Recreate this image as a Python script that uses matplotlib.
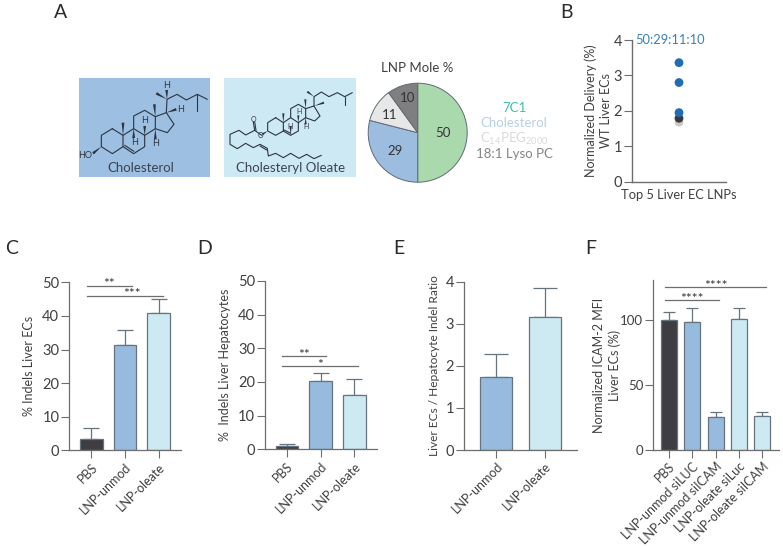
import matplotlib
matplotlib.use("Agg")
import matplotlib.pyplot as plt
from matplotlib.patches import Rectangle

plt.rcParams['font.family'] = ['Lato', 'DejaVu Sans']
plt.rcParams['mathtext.default'] = 'regular'
plt.rcParams['mathtext.fontset'] = 'custom'
plt.rcParams['mathtext.rm'] = 'Lato'

W, H = 783, 547
TXT = '#404040'
AX = '#6e6e6e'
DARK = '#3e3e42'
BLUE = '#97bbde'
LIGHT = '#cde9f2'
EDGE = '#66747f'

# ---- data ----
pie_values = [50, 29, 11, 10]
pie_colors = ['#aad9ae', '#9dbde0', '#e7e7e7', '#7f7f81']
pie_legend = ['7C1', 'Cholesterol', r'C$_{14}$PEG$_{2000}$', '18:1 Lyso PC']
pie_legend_colors = ['#3fc0aa', '#b7d0e9', '#dadada', '#858585']

b_values = [1.68, 1.79, 1.95, 2.80, 3.36]
b_colors = ['#c9c9c9', '#3a3a3c', '#1f6db5', '#1f6db5', '#1f6db5']

c_labels = ['PBS', 'LNP-unmod', 'LNP-oleate']
c_values = [3.3, 31.2, 41.0]
c_tops = [6.6, 35.7, 44.9]

d_labels = ['PBS', 'LNP-unmod', 'LNP-oleate']
d_values = [1.0, 20.3, 16.0]
d_tops = [1.6, 22.8, 21.0]

e_labels = ['LNP-unmod', 'LNP-oleate']
e_values = [1.73, 3.15]
e_tops = [2.28, 3.86]

f_labels = ['PBS', 'LNP-unmod siLUC', 'LNP-unmod siICAM', 'LNP-oleate siLuc', 'LNP-oleate siICAM']
f_values = [100.0, 98.5, 25.5, 100.5, 26.5]
f_tops = [106.0, 109.0, 29.5, 109.0, 29.5]

fig = plt.figure(figsize=(W / 100, H / 100), dpi=100)


def px_axes(x0, x1, ytop, ybot, **kw):
    return fig.add_axes([x0 / W, 1 - ybot / H, (x1 - x0) / W, (ybot - ytop) / H], **kw)


# pixel overlay for the schematic parts of panel A and the panel letters
bg = px_axes(0, W, 0, H)
bg.set_xlim(0, W)
bg.set_ylim(H, 0)
bg.axis('off')

bg.add_patch(Rectangle((79, 78), 131, 99, color='#9dbfe1', lw=0))
bg.add_patch(Rectangle((224, 78), 132, 99, color='#cdeaf4', lw=0))

MOL = '#2c3440'


def chain(pts, ox, oy, lw=0.8, color=MOL):
    xs = [ox + p[0] / 3 for p in pts]
    ys = [oy + p[1] / 3 for p in pts]
    bg.plot(xs, ys, color=color, lw=lw, solid_capstyle='round', solid_joinstyle='round')


def wedge(a, b, ox, oy, w=1.4):
    ax_, ay_ = ox + a[0] / 3, oy + a[1] / 3
    bx_, by_ = ox + b[0] / 3, oy + b[1] / 3
    dx, dy = bx_ - ax_, by_ - ay_
    n = (dx ** 2 + dy ** 2) ** 0.5
    nx, ny = -dy / n * w, dx / n * w
    bg.fill([ax_, bx_ + nx, bx_ - nx], [ay_, by_ + ny, by_ - ny], color=MOL, lw=0)


# Cholesterol skeleton (zoomed-crop coordinates)
ox, oy = 78, 76
chain([(103, 158), (135, 178), (135, 212), (103, 233), (70, 212), (70, 178), (103, 158)], ox, oy)
chain([(135, 178), (167, 158), (200, 178), (200, 212), (167, 233), (135, 212)], ox, oy)
chain([(140, 208), (168, 226)], ox, oy)
chain([(167, 158), (167, 120), (200, 103), (232, 122), (232, 158), (200, 178)], ox, oy)
chain([(232, 122), (265, 110), (288, 145), (268, 170), (232, 158)], ox, oy)
chain([(265, 110), (267, 70), (297, 55), (325, 72), (358, 55), (388, 70)], ox, oy)
chain([(358, 55), (358, 105)], ox, oy)
for a, b in [((70, 212), (45, 232)), ((135, 178), (135, 140)), ((232, 122), (229, 85)),
             ((200, 178), (200, 150)), ((267, 70), (235, 52)), ((267, 70), (266, 42)),
             ((265, 110), (295, 100)), ((167, 158), (167, 186)), ((232, 158), (232, 190))]:
    wedge(a, b, ox, oy)
for s, p in [('HO', (22, 237)), ('H', (169, 200)), ('H', (200, 133)), ('H', (233, 203)),
             ('H', (266, 30)), ('H', (308, 100))]:
    bg.text(ox + p[0] / 3, oy + p[1] / 3, s, fontsize=6.5, color=MOL, ha='center', va='center')

# Cholesteryl oleate skeleton
ox, oy = 224, 76
chain([(155, 125), (178, 140), (178, 165), (155, 178), (131, 165), (131, 140), (155, 125)], ox, oy)
chain([(178, 140), (200, 125), (223, 140), (223, 165), (200, 178), (178, 165)], ox, oy)
chain([(181, 162), (200, 172)], ox, oy)
chain([(200, 125), (200, 98), (223, 85), (245, 98), (245, 125), (223, 140)], ox, oy)
chain([(245, 98), (270, 90), (288, 120), (272, 135), (245, 125)], ox, oy)
chain([(270, 90), (270, 62), (292, 48), (315, 62), (340, 50), (362, 62), (385, 50)], ox, oy)
chain([(362, 62), (362, 88)], ox, oy)
chain([(113, 178), (92, 163), (65, 177), (45, 163), (18, 175), (18, 205), (40, 218), (65, 202),
       (88, 215), (108, 205), (130, 217), (133, 240), (155, 232), (178, 245), (200, 232),
       (225, 247), (248, 235), (270, 248), (292, 238)], ox, oy)
chain([(92, 163), (88, 138)], ox, oy)
chain([(96, 163), (92, 138)], ox, oy)
chain([(108, 210), (128, 222)], ox, oy)
for a, b in [((131, 165), (115, 175)), ((178, 140), (178, 112)), ((245, 98), (244, 70)),
             ((270, 90), (300, 80)), ((270, 62), (250, 47)), ((223, 140), (223, 118)),
             ((245, 125), (245, 145)), ((200, 178), (200, 150))]:
    wedge(a, b, ox, oy, w=1.1)
for s, p in [('O', (87, 131)), ('O', (110, 179)), ('H', (199, 151)), ('H', (224, 105)), ('H', (246, 152))]:
    bg.text(ox + p[0] / 3, oy + p[1] / 3, s, fontsize=5, color=MOL, ha='center', va='center')

bg.text(141, 168, 'Cholesterol', fontsize=9.5, color='#3a4450', ha='center', va='center')
bg.text(291, 168, 'Cholesteryl Oleate', fontsize=9.5, color='#3a4450', ha='center', va='center')
bg.text(417.5, 67.5, 'LNP Mole %', fontsize=9.5, color=TXT, ha='center', va='center')

for s, y, c in zip(pie_legend, [107.5, 123, 138.5, 153.5], pie_legend_colors):
    bg.text(514, y, s, fontsize=9.5, color=c, ha='center', va='center')

for s, x, y in [('A', 61, 13), ('B', 566, 13), ('C', 12, 249), ('D', 205, 249), ('E', 399, 249), ('F', 591, 249)]:
    bg.text(x, y, s, fontsize=14, color='#2a2a2a', ha='center', va='center')

# ---- pie ----
pa = px_axes(367.7, 467.7, 82.7, 182.7)
pa.pie(pie_values, colors=pie_colors, startangle=90, counterclock=False, radius=1,
       wedgeprops=dict(edgecolor='#5f6b72', linewidth=0.7))
pa.set_xlim(-1.01, 1.01)
pa.set_ylim(-1.01, 1.01)
for v, (x, y) in zip(pie_values, [(0.5, 0), (-0.46, -0.37), (-0.57, 0.35), (-0.21, 0.71)]):
    pa.text(x, y, str(v), fontsize=9.5, color='#333333', ha='center', va='center')


def style(ax, ylabel, yticks, lw=0.9, ylab_x=None, ylab_size=9):
    for s in ['top', 'right']:
        ax.spines[s].set_visible(False)
    for s in ['left', 'bottom']:
        ax.spines[s].set_color(AX)
        ax.spines[s].set_linewidth(lw)
    ax.patch.set_alpha(0)
    ax.set_yticks(yticks)
    ax.tick_params(axis='y', length=5.5, width=0.8, color=AX, labelsize=10.5, labelcolor=TXT, pad=1.5)
    ax.set_ylabel(ylabel, fontsize=ylab_size, color=TXT, linespacing=1.3, va='center')
    if ylab_x is not None:
        x0 = ax.get_position().x0 * W
        w = ax.get_position().width * W
        ax.yaxis.set_label_coords((ylab_x - x0) / w, 0.5)


def bars(box, centers, ymax, values, tops, colors, labels, ylabel, yticks, width, ylab_x, ylab_size=9):
    x0, x1, yt, yb = box
    ax = px_axes(x0, x1, yt, yb)
    step = centers[1] - centers[0]
    ax.set_xlim((x0 - centers[0]) / step, (x1 - centers[0]) / step)
    ax.set_ylim(0, ymax)
    pos = list(range(len(values)))
    ax.bar(pos, values, width=width / step, color=colors, edgecolor=EDGE, linewidth=0.9, zorder=2)
    for p, v, t in zip(pos, values, tops):
        ax.errorbar(p, v, yerr=[[0], [t - v]], color=EDGE, elinewidth=0.9, capsize=width * 0.26,
                    capthick=0.9, zorder=1)
    style(ax, ylabel, yticks, ylab_x=ylab_x, ylab_size=ylab_size)
    ax.set_xticks(pos)
    ax.set_xticklabels(labels, rotation=45, ha='right', rotation_mode='anchor', fontsize=9, color=TXT)
    ax.tick_params(axis='x', length=5.5, width=0.8, color=AX, pad=2)
    return ax


def sig(ax, x0, x1, y, stars, sx=None):
    ax.plot([x0, x1], [y, y], color='#6e6e6e', lw=0.9, clip_on=False, zorder=3)
    ax.annotate(stars, xy=((x0 + x1) / 2 if sx is None else sx, y), xytext=(0, -3.4), textcoords='offset points',
                fontsize=10, color='#333333', ha='center', va='bottom', annotation_clip=False)


# ---- B ----
ax = px_axes(632, 726, 40, 181.7)
ax.set_xlim(0, 1)
ax.set_ylim(0, 4)
ax.scatter([0.5] * len(b_values), b_values, c=b_colors, s=40, linewidths=0, zorder=3, clip_on=False)
style(ax, 'Normalized Delivery (%)\nWT Liver ECs', [0, 1, 2, 3, 4], lw=1.0, ylab_x=598.5)
ax.set_xticks([])
ax.set_xlabel('Top 5 Liver EC LNPs', fontsize=9.3, color=TXT, labelpad=5)
ax.text(0.03, 4, '50:29:11:10', fontsize=9.3, color='#3a7fb8', ha='left', va='center', clip_on=False)

# ---- C ----
ax = bars((69, 180.5, 282.3, 450.3), [91.3, 125, 158.7], 50, c_values, c_tops, [DARK, BLUE, LIGHT],
          c_labels, '% Indels Liver ECs', [0, 10, 20, 30, 40, 50], 22.7, 29)
sig(ax, -0.13, 1.2, 49, '**')
sig(ax, -0.13, 2.13, 46, '***', sx=1.2)

# ---- D ----
ax = bars((264.7, 376.7, 281, 449.3), [287, 320.7, 354], 50, d_values, d_tops, [DARK, BLUE, LIGHT],
          d_labels, '%  Indels Liver Hepatocytes', [0, 10, 20, 30, 40, 50], 22.7, 225)
sig(ax, -0.15, 1.17, 27.7, '**')
sig(ax, -0.15, 2.12, 24.7, '*')

# ---- E ----
ax = bars((464, 577, 281.7, 450), [496.3, 544.7], 4, e_values, e_tops, [BLUE, LIGHT],
          e_labels, 'Liver ECs / Hepatocyte Indel Ratio', [0, 1, 2, 3, 4], 32, 434, ylab_size=8.6)

# ---- F ----
ax = bars((653, 778.5, 280, 450), [668.7, 692.1, 715.5, 738.9, 762.3], 130.8, f_values, f_tops,
          [DARK, BLUE, BLUE, LIGHT, LIGHT], f_labels, 'Normalized ICAM-2 MFI\nLiver ECs (%)',
          [0, 50, 100], 16, 607)
ax.tick_params(axis='y', labelsize=9.5)
sig(ax, -0.15, 2.15, 115.5, '****')
sig(ax, -0.15, 4.15, 125.5, '****')

fig.savefig('out.png', dpi=100)
